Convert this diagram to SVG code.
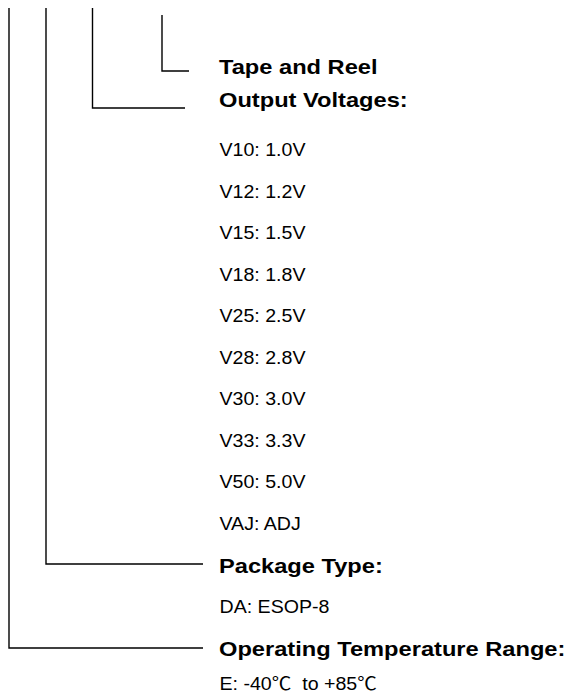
<svg xmlns="http://www.w3.org/2000/svg" width="575" height="700" viewBox="0 0 575 700">
<style>
.c{fill:none;stroke:#000;stroke-width:1.4}
.h{font-family:"Liberation Sans",Arial,sans-serif;font-weight:bold;font-size:21px;fill:#000}
.t{font-family:"Liberation Sans",Arial,sans-serif;font-size:18px;fill:#000;white-space:pre}
.cjk{font-family:"Noto Sans CJK SC",sans-serif}
</style>
<rect width="575" height="700" fill="#fff"/>
<g id="connectors">
<polyline class="c" points="162,15 162,71 189,71"/>
<polyline class="c" points="92.5,8 92.5,108 185,108"/>
<polyline class="c" points="46,8 46,564 203,564"/>
<polyline class="c" points="9,8 9,648 203,648"/>
</g>
<g id="tape" transform="translate(219,0) scale(1.126,1)"><text class="h" x="0" y="74">Tape and Reel</text></g>
<g id="voltages">
<g transform="translate(219,0) scale(1.126,1)"><text class="h" x="0" y="107.5">Output Voltages:</text></g>
<g transform="translate(219.5,0) scale(1.089,1)">
<text class="t" x="0" y="156.5">V10: 1.0V</text>
<text class="t" x="0" y="198">V12: 1.2V</text>
<text class="t" x="0" y="239.5">V15: 1.5V</text>
<text class="t" x="0" y="281">V18: 1.8V</text>
<text class="t" x="0" y="322.5">V25: 2.5V</text>
<text class="t" x="0" y="364">V28: 2.8V</text>
<text class="t" x="0" y="405.5">V30: 3.0V</text>
<text class="t" x="0" y="447">V33: 3.3V</text>
<text class="t" x="0" y="488.5">V50: 5.0V</text>
<text class="t" x="0" y="530.5">VAJ: ADJ</text>
</g>
</g>
<g id="package">
<g transform="translate(219,0) scale(1.126,1)"><text class="h" x="0" y="573">Package Type:</text></g>
<g transform="translate(219.5,0) scale(1.089,1)"><text class="t" x="0" y="613">DA: ESOP-8</text></g>
</g>
<g id="temperature">
<g transform="translate(219,0) scale(1.126,1)"><text class="h" x="0" y="656">Operating Temperature Range:</text></g>
<g transform="translate(219.5,0) scale(1.089,1)"><text class="t" x="0" y="690">E: -40<tspan class="cjk">℃</tspan>  to +85<tspan class="cjk">℃</tspan></text></g>
</g>
</svg>
